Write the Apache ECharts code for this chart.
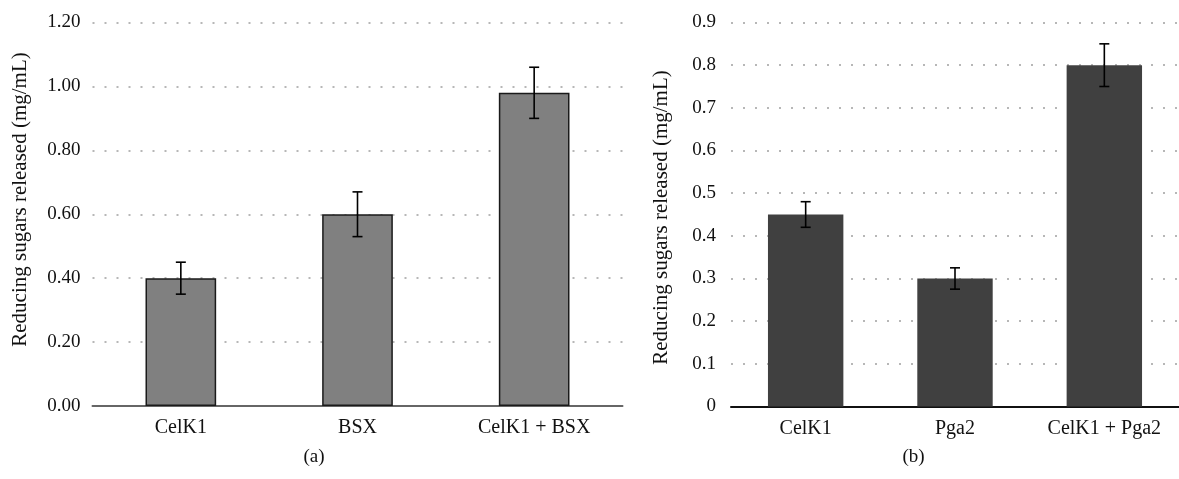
<!DOCTYPE html>
<html><head><meta charset="utf-8">
<script src="https://cdn.jsdelivr.net/npm/echarts@6/dist/echarts.min.js"></script>
<style>html,body{margin:0;padding:0;background:#fff}#c{width:1179px;height:479px}</style>
</head><body><div id="c"></div>
<script>
const catsA = ['CelK1', 'BSX', 'CelK1 + BSX'];
const valsA = [0.40, 0.60, 0.98];
const errA = [0.05, 0.07, 0.08];
const ticksA = { min: 0, max: 1.2, interval: 0.2 };

const catsB = ['CelK1', 'Pga2', 'CelK1 + Pga2'];
const valsB = [0.45, 0.30, 0.80];
const errB = [0.03, 0.025, 0.05];
const ticksB = { min: 0, max: 0.9, interval: 0.1 };

const yTitle = 'Reducing sugars released (mg/mL)';
const FONT = 'Liberation Serif';

function errSeries(vals, errs, idx) {
  return {
    type: 'custom', xAxisIndex: idx, yAxisIndex: idx, z: 10,
    data: vals.map((v, i) => [i, v - errs[i], v + errs[i]]),
    renderItem: function (params, api) {
      const lo = api.coord([api.value(0), api.value(1)]);
      const hi = api.coord([api.value(0), api.value(2)]);
      const hw = 5;
      const st = { stroke: '#000', lineWidth: 1.6 };
      return { type: 'group', children: [
        { type: 'line', shape: { x1: lo[0], y1: lo[1], x2: hi[0], y2: hi[1] }, style: st },
        { type: 'line', shape: { x1: hi[0] - hw, y1: hi[1], x2: hi[0] + hw, y2: hi[1] }, style: st },
        { type: 'line', shape: { x1: lo[0] - hw, y1: lo[1], x2: lo[0] + hw, y2: lo[1] }, style: st }
      ]};
    }
  };
}

const gridLine = { show: true, lineStyle: { type: [2, 10], width: 1.5, color: '#a0a0a0' } };
const labelStyle = { fontFamily: FONT, fontSize: 19, color: '#111' };
const xLabelStyle = { fontFamily: FONT, fontSize: 20, color: '#111' };

const option = {
  animation: false,
  grid: [
    { left: 92.5, top: 22.5, width: 530, height: 383.5 },
    { left: 731, top: 22.5, width: 456, height: 384 }
  ],
  xAxis: [
    { type: 'category', gridIndex: 0, data: catsA,
      axisLine: { lineStyle: { color: '#666', width: 2 } }, axisTick: { show: false },
      axisLabel: Object.assign({ margin: 12 }, xLabelStyle) },
    { type: 'category', gridIndex: 1, data: catsB,
      axisLine: { lineStyle: { color: '#111', width: 2 } }, axisTick: { show: false },
      axisLabel: Object.assign({ margin: 12 }, xLabelStyle) }
  ],
  yAxis: [
    { type: 'value', gridIndex: 0, min: ticksA.min, max: ticksA.max, interval: ticksA.interval,
      axisLine: { show: false }, axisTick: { show: false }, splitLine: gridLine,
      axisLabel: Object.assign({ margin: 12, formatter: v => v.toFixed(2) }, labelStyle) },
    { type: 'value', gridIndex: 1, min: ticksB.min, max: ticksB.max, interval: ticksB.interval,
      axisLine: { show: false }, axisTick: { show: false }, splitLine: gridLine,
      axisLabel: Object.assign({ margin: 15, formatter: v => v === 0 ? '0' : v.toFixed(1) }, labelStyle) }
  ],
  series: [
    { type: 'bar', xAxisIndex: 0, yAxisIndex: 0, data: valsA, barWidth: '40%',
      itemStyle: { color: '#808080', borderColor: '#1a1a1a', borderWidth: 1.5 } },
    { type: 'bar', xAxisIndex: 1, yAxisIndex: 1, data: valsB, barWidth: '50.5%',
      itemStyle: { color: '#404040' } },
    errSeries(valsA, errA, 0),
    errSeries(valsB, errB, 1)
  ],
  graphic: [
    { type: 'text', x: 20, y: 199.5, rotation: Math.PI / 2,
      style: { text: yTitle, font: '21px "' + FONT + '"', fill: '#111', align: 'center', verticalAlign: 'middle' } },
    { type: 'text', x: 661.5, y: 217.5, rotation: Math.PI / 2,
      style: { text: yTitle, font: '21px "' + FONT + '"', fill: '#111', align: 'center', verticalAlign: 'middle' } },
    { type: 'text', x: 314, y: 457,
      style: { text: '(a)', font: '19px "' + FONT + '"', fill: '#111', align: 'center', verticalAlign: 'middle' } },
    { type: 'text', x: 913.5, y: 457,
      style: { text: '(b)', font: '19px "' + FONT + '"', fill: '#111', align: 'center', verticalAlign: 'middle' } }
  ]
};
echarts.init(document.getElementById('c'), null, { renderer: 'canvas' }).setOption(option);
</script></body></html>
